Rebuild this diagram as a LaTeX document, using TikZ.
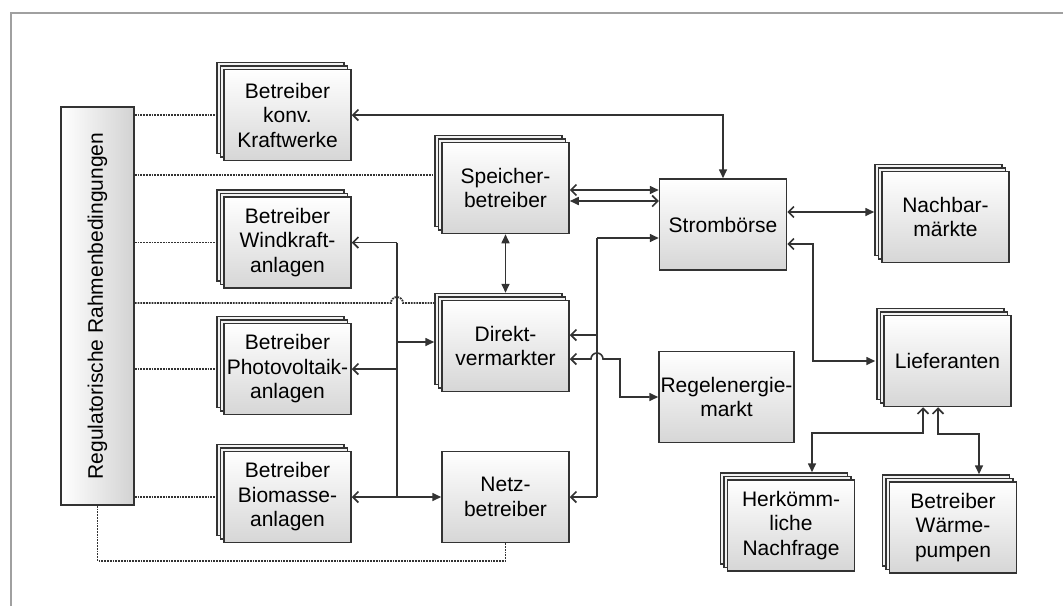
\documentclass[tikz,border=0pt]{standalone}
\usepackage{fontspec}
\setmainfont{Liberation Sans}
\usetikzlibrary{arrows.meta,shadows,calc}
\definecolor{bdr}{HTML}{333333}
\definecolor{frm}{HTML}{A0A0A0}
\tikzset{
	farr/.tip={Triangle[length=9pt,width=8pt]},
	oarr/.tip={Straight Barb[length=5.5pt,width=11pt]},
	box/.style={draw=bdr, line width=1.5pt, top color=white, bottom color=gray!32,
		minimum width=127pt, minimum height=91pt, align=center, inner sep=0.5pt,
		font=\fontsize{21}{24.5}\selectfont},
	layer/.style={draw=bdr, fill=gray!10, line width=1.5pt},
	stk/.style={box,
		general shadow={shadow xshift=-7pt, shadow yshift=7pt, layer},
		general shadow={shadow xshift=-3.5pt, shadow yshift=3.5pt, layer}},
	regbox/.style={draw=bdr, line width=1.5pt, left color=white, right color=gray!35,
		minimum width=73pt, minimum height=398pt, inner sep=1pt,
		font=\fontsize{21}{24.5}\selectfont},
	con/.style={draw=bdr, line width=1.6pt},
	rdot/.style={draw=bdr, densely dotted, line width=1.8pt}
}
\begin{document}
\begin{tikzpicture}[x=1pt,y=-1pt]
		\useasboundingbox (0,0) rectangle (1063,606);
		\draw[frm, line width=1.2pt] (11,606) -- (11,13) -- (1063,13);
		\node[regbox] (reg) at (97.5,306) {\rotatebox{90}{Regulatorische Rahmenbedingungen}};
		\node[stk] (konv) at (287.5,115) {Betreiber\\konv.\\Kraftwerke};
		\node[stk] (wind) at (287.5,242.5) {Betreiber\\Windkraft-\\anlagen};
		\node[stk] (pv) at (287.5,369) {Betreiber\\Photovoltaik-\\anlagen};
		\node[stk] (bio) at (287.5,497) {Betreiber\\Biomasse-\\anlagen};
		\node[stk] (spei) at (505.5,188) {Speicher-\\betreiber};
		\node[stk] (dir) at (505.5,346) {Direkt-\\vermarkter};
		\node[box] (netz) at (505.5,497) {Netz-\\betreiber};
		\node[box] (strom) at (723,224.5) {Strombörse};
		\node[box, minimum width=135pt] (regel) at (726.5,397) {Regelenergie-\\markt};
		\node[stk] (nach) at (945.5,217) {Nachbar-\\märkte};
		\node[stk] (lief) at (947.5,361) {Lieferanten};
		\node[stk] (herk) at (791,525.5) {Herkömm-\\liche\\Nachfrage};
		\node[stk] (waerme) at (953,527.5) {Betreiber\\Wärme-\\pumpen};
		\coordinate (b1) at (397,242.5);
		\coordinate (b2) at (597,238);
		\coordinate (s1) at ([xshift=-7pt, yshift=13pt]spei.west);
		\coordinate (s2) at ([yshift=-2pt]spei.east);
		\coordinate (s3) at ([yshift=-13pt]spei.east);
		\coordinate (d1) at ([xshift=-7pt, yshift=43pt]dir.west);
		\coordinate (d2) at ([yshift=4pt]dir.west);
		\coordinate (d3) at ([yshift=11pt]dir.east);
		\coordinate (d4) at ([yshift=-13pt]dir.east);
		\coordinate (n1) at ([yshift=5pt]nach.west);
		\coordinate (l1) at ([yshift=-19.5pt]strom.east);
		\coordinate (l2) at ([xshift=-24.5pt]lief.south);
		\coordinate (l3) at ([xshift=-9.5pt]lief.south);
		\draw[rdot] (reg.east |- konv.west) -- ([xshift=-7pt]konv.west);
		\draw[rdot] (reg.east |- s1) -- (s1);
		\draw[rdot] (reg.east |- wind.west) -- ([xshift=-7pt]wind.west);
		\draw[rdot] (reg.east |- d1) -- ($(b1 |- d1)+(-6,0)$) arc[start angle=180, end angle=0, radius=6pt] -- (d1);
		\draw[rdot] (reg.east |- pv.west) -- ([xshift=-7pt]pv.west);
		\draw[rdot] (reg.east |- bio.west) -- ([xshift=-7pt]bio.west);
		\draw[rdot] (reg.south) -- ++(0,55) -| (netz.south);
		\draw[con, oarr-farr] (konv.east) -| (strom.north);
		\draw[con, oarr-farr] (s2) -- (s2 -| strom.west);
		\draw[con, farr-oarr] (s3) -- (s3 -| strom.west);
		\draw[con, farr-farr, shorten >=7pt] (spei.south) -- (dir.north);
		\draw[con] (b1) -- (b1 |- bio.east);
		\draw[con, oarr-] (wind.east) -- (b1);
		\draw[con, oarr-] (pv.east) -- (pv.east -| b1);
		\draw[con, oarr-farr] (bio.east) -- (netz.west);
		\draw[con, -farr, shorten >=7pt] (d2 -| b1) -- (d2);
		\draw[con, -farr] (b2) -- (b2 -| strom.west);
		\draw[con] (b2) -- (b2 |- netz.east);
		\draw[con, oarr-] (netz.east) -- (netz.east -| b2);
		\draw[con, oarr-] (d3) -- (d3 -| b2);
		\draw[con, oarr-farr] (d4) -- ($(d4 -| b2)+(-6,0)$) arc[start angle=180, end angle=0, radius=6pt] -- ++(17,0) |- (regel.west);
		\draw[con, oarr-farr, shorten >=7pt] (n1 -| strom.east) -- (n1);
		\draw[con, oarr-farr, shorten >=8pt] (l1) -- ++(26,0) |- (lief.west);
		\draw[con, oarr-farr, shorten >=7pt] (l2) -- ++(0,26) -| ([xshift=21pt]herk.north);
		\draw[con, oarr-farr, shorten >=7pt] (l3) -- ++(0,27) -| ([xshift=26pt]waerme.north);
\end{tikzpicture}
\end{document}
